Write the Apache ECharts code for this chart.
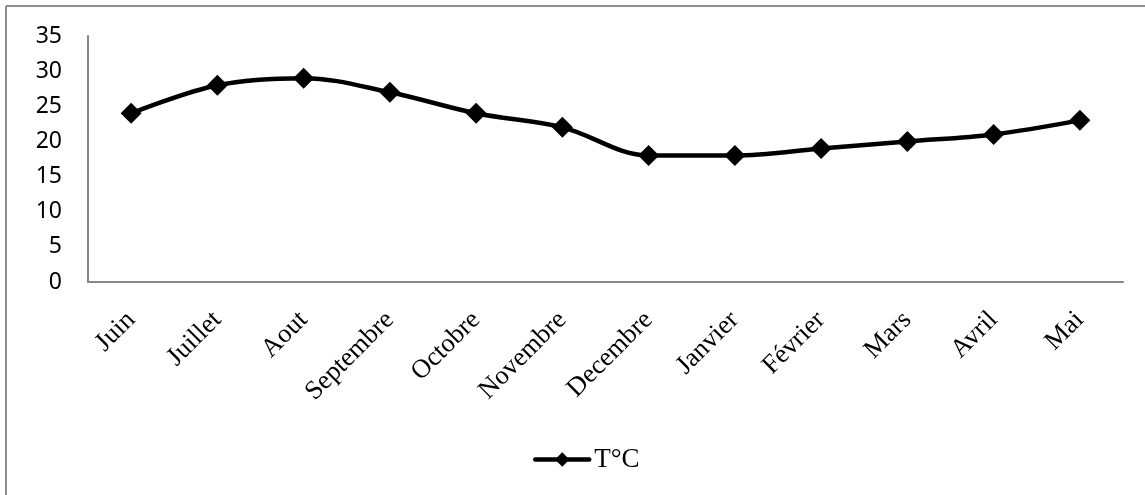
<!DOCTYPE html>
<html><head><meta charset="utf-8">
<script src="https://cdn.jsdelivr.net/npm/echarts@6/dist/echarts.min.js"></script>
<style>html,body{margin:0;padding:0;background:#fff}#c{width:1145px;height:495px}</style>
</head><body><div id="c"></div>
<script>
const categories = ['Juin','Juillet','Aout','Septembre','Octobre','Novembre','Decembre','Janvier','Février','Mars','Avril','Mai'];
const temperature = [24,28,29,27,24,22,18,18,19,20,21,23];
const seriesName = 'T°C';

const chart = echarts.init(document.getElementById('c'));
chart.setOption({
  animation:false,
  backgroundColor:'#fff',
  graphic:[
    {type:'line', shape:{x1:6,y1:6,x2:1145,y2:6}, style:{stroke:'#8c8c8c', lineWidth:2}},
    {type:'line', shape:{x1:6,y1:6,x2:6,y2:495}, style:{stroke:'#8c8c8c', lineWidth:2}}
  ],
  grid:{left:88, right:22, top:36, bottom:213},
  legend:{
    data:[seriesName], left:533, top:446, padding:0, itemWidth:54, itemHeight:18, itemGap:4,
    lineStyle:{width:4.5, color:'#000', cap:'round'},
    textStyle:{fontFamily:'Liberation Serif', fontSize:27, color:'#000'}
  },
  xAxis:{
    type:'category', data:categories, boundaryGap:true,
    axisLine:{lineStyle:{color:'#868686', width:2}},
    axisTick:{show:false},
    axisLabel:{rotate:45, margin:34, interval:0, fontFamily:'Liberation Serif', fontSize:26.5, color:'#000'}
  },
  yAxis:{
    type:'value', min:0, max:35, interval:5,
    axisLine:{show:true, lineStyle:{color:'#868686', width:2}},
    axisTick:{show:false},
    splitLine:{show:false},
    axisLabel:{margin:26, fontFamily:'Noto Sans', fontSize:23, color:'#000'}
  },
  series:[{
    name:seriesName, type:'line', data:temperature, smooth:0.35,
    symbol:'diamond', symbolSize:21,
    lineStyle:{color:'#000', width:4.5, cap:'round'},
    itemStyle:{color:'#000'}
  }]
});
</script></body></html>
